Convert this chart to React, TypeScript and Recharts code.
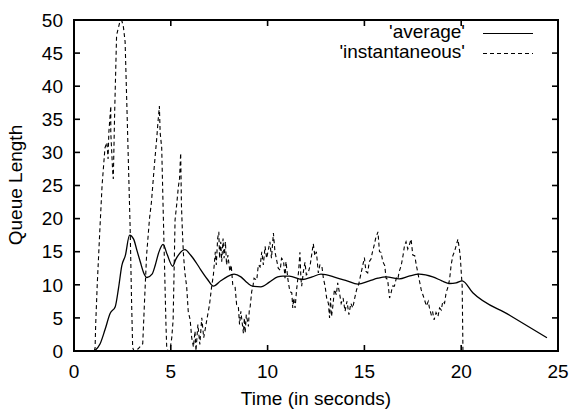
import { LineChart, Line, XAxis, YAxis, Legend } from 'recharts';

const timeTicks = [0, 5, 10, 15, 20, 25];
const queueTicks = [0, 5, 10, 15, 20, 25, 30, 35, 40, 45, 50];

const averageTime = [
  1.06, 1.35, 1.6, 1.87, 2.13, 2.3, 2.47, 2.65, 2.87, 3.08, 3.25, 3.43, 3.6, 3.77, 4.03, 4.2, 4.38,
  4.6, 4.81, 5.1, 5.25, 5.42, 5.73, 6.02, 6.3, 6.54, 6.9, 7.2, 7.58, 7.9, 8.27, 8.62, 8.95, 9.22,
  9.65, 10.09, 10.52, 10.78, 11.12, 11.8, 12.3, 12.76, 13.53, 14.1, 14.66, 15.26, 15.7, 16.12,
  16.81, 17.3, 17.84, 18.53, 19.0, 19.4, 19.74, 20.05, 20.6, 22.5, 24.43,
];
const averageQueue = [
  0, 1.1, 3.2, 5.7, 6.7, 9.5, 12.9, 14.4, 17.5, 16.9, 15.2, 13.4, 11.8, 11.1, 11.6, 13, 14.9,
  16.1, 14.6, 12.8, 13.8, 14.6, 15.3, 14.5, 13.4, 12.3, 10.8, 9.8, 10.6, 11.2, 11.6, 11.2, 10.3, 9.8,
  9.7, 10.4, 11.2, 11.3, 11.3, 10.8, 11.2, 11.6, 11.1, 10.6, 10.1, 10.6, 11.0, 11.2,
  10.9, 11.3, 11.6, 11.2, 10.6, 10.2, 10.3, 10.6, 8.8, 5.4, 2.0,
];

const instantTime = [
  1.05, 1.09, 1.12, 1.2, 1.34, 1.45, 1.6, 1.7, 1.76, 1.8, 1.9, 1.9, 1.95, 2.0, 2.03, 2.1, 2.2, 2.35,
  2.46, 2.55, 2.64, 2.75, 2.9, 2.97, 3.03, 3.1, 3.3, 3.55, 3.65, 3.75, 3.9, 4.0, 4.15, 4.27, 4.35,
  4.41, 4.45, 4.53, 4.6, 4.7, 4.75, 4.79, 4.86, 4.95, 5.05, 5.12, 5.17, 5.22, 5.3, 5.39, 5.45, 5.51,
  5.55, 5.6, 5.65, 5.72, 5.82, 5.9, 6.0, 6.08, 6.17, 6.25, 6.3, 6.4, 6.5, 6.6, 6.7, 6.86, 7.0, 7.1,
  7.2, 7.3, 7.35, 7.42, 7.48, 7.52, 7.58, 7.63, 7.7, 7.75, 7.82, 7.88, 7.95, 8.05, 8.12, 8.2, 8.32,
  8.4, 8.49, 8.55, 8.62, 8.67, 8.75, 8.8, 8.84, 8.9, 9.01, 9.05, 9.1, 9.18, 9.24, 9.3, 9.44, 9.52,
  9.61, 9.7, 9.78, 9.87, 9.95, 10.04, 10.12, 10.2, 10.3, 10.38, 10.47, 10.55, 10.65, 10.72, 10.82,
  10.9, 10.95, 11.05, 11.15, 11.25, 11.3, 11.35, 11.42, 11.5, 11.6, 11.67, 11.72, 11.76, 11.85,
  11.93, 12.0, 12.1, 12.2, 12.3, 12.36, 12.44, 12.52, 12.62, 12.7, 12.8, 12.88, 12.97, 13.05, 13.14,
  13.2, 13.25, 13.3, 13.38, 13.45, 13.55, 13.62, 13.7, 13.8, 13.9, 14.0, 14.1, 14.2, 14.3, 14.4,
  14.5, 14.6, 14.7, 14.83, 14.92, 15.0, 15.08, 15.17, 15.25, 15.34, 15.42, 15.5, 15.58, 15.7, 15.78,
  15.86, 15.95, 16.05, 16.12, 16.2, 16.3, 16.38, 16.45, 16.55, 16.65, 16.72, 16.8, 16.9, 17.0,
  17.07, 17.15, 17.24, 17.32, 17.41, 17.5, 17.6, 17.68, 17.76, 17.85, 17.93, 18.02, 18.1, 18.2,
  18.3, 18.36, 18.45, 18.52, 18.6, 18.7, 18.8, 18.88, 18.97, 19.05, 19.14, 19.22, 19.3, 19.4,
  19.48, 19.57, 19.65, 19.74, 19.83, 19.9, 19.95, 20.0, 20.05, 20.07, 20.09,
];
const instantQueue = [
  0, 0.5, 4, 10, 18.6, 25, 30.7, 31.5, 29, 33, 37, 33, 30, 27, 26, 36, 47.7, 49.5,
  50, 49, 46.7, 35, 18.6, 8, 0.5, 0, 0.3, 1.1, 8, 14.5, 20, 22.5, 28, 32, 35,
  37, 33, 30.7, 22, 10, 4, 0.5, 0, 0, 2, 4.7, 12, 19.8, 22, 24.8, 26, 29.9,
  22, 18, 14.8, 12, 9.7, 6, 4.7, 2, 0.6, 3, 0, 4, 1, 5, 2, 4.7, 7, 9.5,
  11.5, 15, 13, 17, 18, 14, 16.5, 13.5, 17, 14, 16.5, 13, 14.5, 12, 13, 10, 9.7,
  7, 6.7, 4, 6, 4.7, 2.7, 5, 2.7, 5.5, 3.7, 6, 6.7, 9, 9.7, 11, 10.7, 13,
  12.7, 15, 13, 15.8, 14, 15.3, 16.5, 14, 17.8, 15, 13.7, 12.5, 12.2, 14, 13.7,
  11, 13.5, 10.8, 9, 8.8, 6.5, 8, 6.5, 9.3, 12, 14.9, 11, 9.8, 12,
  13.4, 11.5, 11.8, 13, 15, 16.2, 14.4, 15, 11.8, 13, 12.9, 11, 9.8, 8, 7.2,
  5, 8, 5.2, 7, 9.3, 8.5, 10.3, 9, 7.2, 8, 6.0, 7.5, 5.5, 7.2, 6.5,
  8, 9.3, 10, 11.8, 13, 14.1, 12, 11.8, 13.5, 13.9, 15, 15.9, 17, 18.0, 15,
  14.9, 13.5, 12.9, 11, 10.8, 8, 8.8, 9.8, 9.8, 11, 10.8, 12, 12.9, 14.5,
  15.9, 16.5, 15.4, 16, 16.9, 14.5, 14.4, 13, 11.8, 10.5, 9.3, 8.5, 7.8, 6.8,
  7.5, 6.5, 5.5, 6, 4.7, 5.8, 5.2, 6.5, 6.2, 7.5, 7.2, 8.8, 9.5, 10.8,
  13, 14.4, 15, 15.9, 16.9, 15.5, 14.4, 12, 9.8, 5, 0,
];

const averageData = averageTime.map((t, i) => ({ t, q: averageQueue[i] }));
const instantData = instantTime.map((t, i) => ({ t, q: instantQueue[i] }));

const font = "'Liberation Sans', Arial, Helvetica, sans-serif";

// chart sits at (8, 8) on the page; plot frame in page pixels
const OFF = 8;
const PLOT_TOP = 20;
const PLOT_BOTTOM = 351;
const PLOT_LEFT = 74;
const PLOT_RIGHT = 558;
const MARK = 6;

const tickX = (t: number) => PLOT_LEFT + (t / 25) * (PLOT_RIGHT - PLOT_LEFT);
const tickY = (v: number) => PLOT_BOTTOM - (v / 50) * (PLOT_BOTTOM - PLOT_TOP);

function renderLegend(props: any) {
  const rows = props.payload || [];
  return (
    <div style={{ position: 'relative', width: 554, height: 0, fontFamily: font, fontSize: 19, color: '#000' }}>
      {rows.map((entry: any, i: number) => {
        const top = 13 + i * 20;
        const dash = entry.payload?.strokeDasharray;
        return (
          <div key={entry.value}>
            <div style={{ position: 'absolute', left: 0, top, width: 457, height: 22, lineHeight: '22px', textAlign: 'right', whiteSpace: 'nowrap' }}>
              {entry.value}
            </div>
            <svg style={{ position: 'absolute', left: 475, top }} width={52} height={22}>
              <line x1={0} x2={50} y1={12.5} y2={12.5} stroke="#000" strokeWidth={1.2} strokeDasharray={dash} />
            </svg>
          </div>
        );
      })}
    </div>
  );
}

// gnuplot style box (css border) with inward ticks on all four sides
function Frame() {
  return (
    <>
      <div
        style={{
          position: 'absolute',
          left: PLOT_LEFT - 1,
          top: PLOT_TOP - 1,
          width: PLOT_RIGHT - PLOT_LEFT + 2,
          height: PLOT_BOTTOM - PLOT_TOP + 2,
          boxSizing: 'border-box',
          borderStyle: 'solid',
          borderColor: '#000',
          borderWidth: '2px 2px 2px 2px',
          pointerEvents: 'none',
        }}
      />
      <svg style={{ position: 'absolute', left: 0, top: 0, pointerEvents: 'none' }} width={570} height={410}>
        {timeTicks.map((t) => (
          <g key={`t${t}`}>
            <line x1={tickX(t)} x2={tickX(t)} y1={PLOT_BOTTOM} y2={PLOT_BOTTOM - MARK} stroke="#000" strokeWidth={1.6} />
            <line x1={tickX(t)} x2={tickX(t)} y1={PLOT_TOP} y2={PLOT_TOP + MARK} stroke="#000" strokeWidth={1.6} />
          </g>
        ))}
        {queueTicks.map((v) => (
          <g key={`q${v}`}>
            <line x1={PLOT_LEFT} x2={PLOT_LEFT + MARK} y1={tickY(v)} y2={tickY(v)} stroke="#000" strokeWidth={1.6} />
            <line x1={PLOT_RIGHT} x2={PLOT_RIGHT - MARK} y1={tickY(v)} y2={tickY(v)} stroke="#000" strokeWidth={1.6} />
          </g>
        ))}
      </svg>
    </>
  );
}

export default function App() {
  return (
    <div style={{ position: 'relative', width: 570, height: 410, fontFamily: font, background: '#fff', overflow: 'hidden' }}>
      <style>{`body { margin: 0; }`}</style>
      <div style={{ position: 'absolute', left: OFF, top: OFF }}>
        <LineChart width={562} height={394} data={averageData} margin={{ top: PLOT_TOP - OFF, right: 12, left: 0, bottom: 0 }}>
          <XAxis
            xAxisId="b"
            type="number"
            dataKey="t"
            domain={[0, 25]}
            ticks={timeTicks}
            height={51}
            stroke="#000"
            tickSize={6}
            tickMargin={8}
            tick={{ fill: '#000', fontSize: 19, fontFamily: font }}
            tickLine={false}
            axisLine={false}
          />
          <YAxis
            yAxisId="l"
            type="number"
            domain={[0, 50]}
            ticks={queueTicks}
            width={66}
            stroke="#000"
            tickSize={6}
            tickMargin={5}
            tick={{ fill: '#000', fontSize: 19, fontFamily: font }}
            tickLine={false}
            axisLine={false}
          />
          <Legend
            layout="horizontal"
            verticalAlign="middle"
            align="center"
            wrapperStyle={{ top: 0, left: 0, width: 554, height: 0 }}
            content={renderLegend}
          />
          <Line
            xAxisId="b"
            yAxisId="l"
            data={averageData}
            dataKey="q"
            name="'average'"
            type="monotone"
            stroke="#000"
            strokeWidth={1.3}
            dot={false}
            isAnimationActive={false}
          />
          <Line
            xAxisId="b"
            yAxisId="l"
            data={instantData}
            dataKey="q"
            name="'instantaneous'"
            type="linear"
            stroke="#000"
            strokeWidth={1.1}
            strokeDasharray="4 3"
            dot={false}
            isAnimationActive={false}
          />
        </LineChart>
      </div>
      <Frame />
      <div style={{ position: 'absolute', left: 0, top: 388, width: 632, height: 22, lineHeight: '22px', textAlign: 'center', fontSize: 19, color: '#000', whiteSpace: 'nowrap' }}>
        Time (in seconds)
      </div>
      <div style={{ position: 'absolute', left: 16 - 100, top: 185 - 11, width: 200, height: 22, lineHeight: '22px', textAlign: 'center', fontSize: 19, color: '#000', transform: 'rotate(-90deg)', whiteSpace: 'nowrap' }}>
        Queue Length
      </div>
    </div>
  );
}
